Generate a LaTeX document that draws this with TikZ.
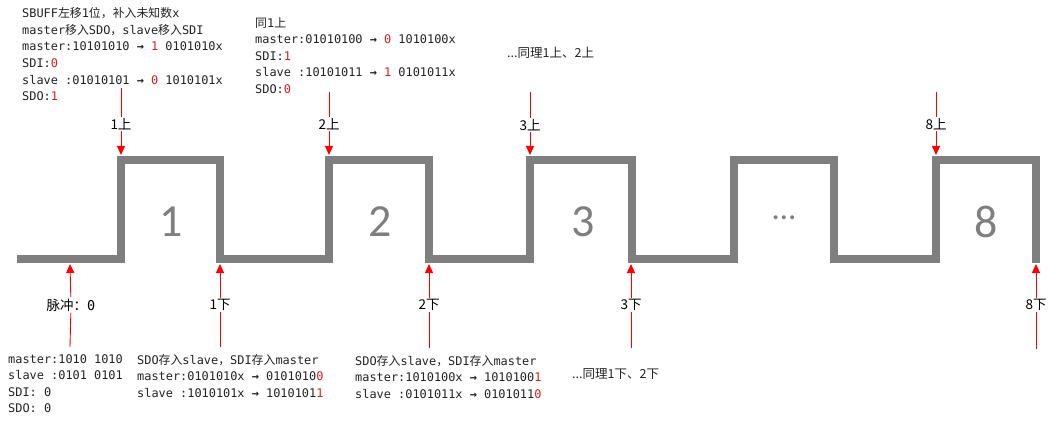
\documentclass[tikz,border=0pt]{standalone}
\usepackage{fontspec}
\setmainfont{Noto Sans CJK SC}
\newfontfamily\cjk{Noto Sans CJK SC}
\newfontfamily\codefont{DejaVu Sans Mono}
\newfontfamily\numfont{Carlito}
\usetikzlibrary{arrows.meta,positioning}
\definecolor{wavegray}{RGB}{127,127,127}
\definecolor{markred}{RGB}{255,0,0}
\definecolor{bitred}{RGB}{215,30,30}
\definecolor{codeblack}{RGB}{35,35,35}
\newcommand{\zh}[1]{{\cjk #1}}
\newcommand{\rb}[1]{\textcolor{bitred}{#1}}
\newcommand{\shiftto}{{\bfseries →}}
\tikzset{
  wave/.style={draw=wavegray,line width=8pt,line join=miter},
  markline/.style={draw=markred,line width=0.9pt},
  markarr/.style={markline,-{Triangle[length=9pt,width=8pt]}},
  edgelab/.style={font=\fontsize{13.5}{16}\selectfont,inner sep=1.5pt,text=black},
  notetext/.style={font=\fontsize{12.5}{15}\selectfont,inner sep=0pt,anchor=west,text=codeblack},
  codetext/.style={font=\codefont\fontsize{11.9}{16.6}\selectfont,align=left,inner sep=0pt,
                   anchor=north west,text=codeblack},
  pulsenum/.style={font=\numfont\fontsize{46}{50}\selectfont,text=wavegray}
}

\begin{document}
\begin{tikzpicture}[x=1pt,y=-1pt]
  \useasboundingbox (0,0) rectangle (1056,422);

  %% Clock waveform
  \draw[wave] (17,259) -- (121,259) -- (121,160) -- (220,160) -- (220,259)
    -- (329,259) -- (329,160) -- (429,160) -- (429,259)
    -- (530,259) -- (530,160) -- (632,160) -- (632,259)
    -- (734,259) -- (734,160) -- (834,160) -- (834,259)
    -- (936,259) -- (936,160) -- (1036,160) -- (1036,263);

  %% Pulse numbers
  \node[pulsenum] (p1) at (171,222) {1};
  \node[pulsenum] (p2) at (380,222) {2};
  \node[pulsenum] (p3) at (583,222) {3};
  \node[pulsenum,font=\numfont\fontsize{33}{36}\selectfont] (pdots) at (784,218) {…};
  \node[pulsenum] (p8) at (986,222) {8};

  %% Edge points on the waveform
  \coordinate (e1u) at (121,155);
  \coordinate (e2u) at (329,155);
  \coordinate (e3u) at (530,155);
  \coordinate (e8u) at (936,155);
  \coordinate (e0d) at (70,264);
  \coordinate (e1d) at (220,264);
  \coordinate (e2d) at (429,264);
  \coordinate (e3d) at (631,264);
  \coordinate (e8d) at (1036,264);

  %% Free ends of the marks
  \coordinate (s1u) at (121,88);
  \coordinate (s2u) at (329,92);
  \coordinate (s3u) at (530,92);
  \coordinate (s8u) at (936,92);
  \coordinate (s0d) at (70,347);
  \coordinate (s1d) at (220,347);
  \coordinate (s2d) at (429,348);
  \coordinate (s3d) at (631,348);
  \coordinate (s8d) at (1036,349);

  %% Edge labels
  \node[edgelab] (m1u) at (121,124) {1上};
  \node[edgelab] (m2u) at (329,124) {2上};
  \node[edgelab] (m3u) at (530,125) {3上};
  \node[edgelab] (m8u) at (936,124) {8上};
  \node[edgelab] (m0d) at (71,305) {脉冲：{\codefont 0}};
  \node[edgelab] (m1d) at (220,305) {1下};
  \node[edgelab] (m2d) at (429,305) {2下};
  \node[edgelab] (m3d) at (631,305) {3下};
  \node[edgelab] (m8d) at (1036,305) {8下};

  %% ── MARKS ──────────────────────────────────────────────
  %% rising edges, from above
  \draw[markline] (s1u) -- (m1u);
  \draw[markarr] (m1u) -- (e1u);
  \draw[markline] (s2u) -- (m2u);
  \draw[markarr] (m2u) -- (e2u);
  \draw[markline] (s3u) -- (m3u);
  \draw[markarr] (m3u) -- (e3u);
  \draw[markline] (s8u) -- (m8u);
  \draw[markarr] (m8u) -- (e8u);

  %% falling edges, from below
  \draw[markline] (s0d) -- (m0d);
  \draw[markarr] (m0d) -- (e0d);
  \draw[markline] (s1d) -- (m1d);
  \draw[markarr] (m1d) -- (e1d);
  \draw[markline] (s2d) -- (m2d);
  \draw[markarr] (m2d) -- (e2d);
  \draw[markline] (s3d) -- (m3d);
  \draw[markarr] (m3d) -- (e3d);
  \draw[markline] (s8d) -- (m8d);
  \draw[markarr] (m8d) -- (e8d);

  %% Shift notes, above
  \node[codetext] (shift1) at (22,7.5)
    {SBUFF\zh{左移}1\zh{位，补入未知数}x\\
     master\zh{移入}SDO\zh{，}slave\zh{移入}SDI\\
     master:10101010 \shiftto{} \rb{1} 0101010x\\
     SDI:\rb{0}\\
     slave :01010101 \shiftto{} \rb{0} 1010101x\\
     SDO:\rb{1}};
  \node[codetext] (shift2) at (255,17)
    {\zh{同}1\zh{上}\\
     master:01010100 \shiftto{} \rb{0} 1010100x\\
     SDI:\rb{1}\\
     slave :10101011 \shiftto{} \rb{1} 0101011x\\
     SDO:\rb{0}};
  \node[notetext] (shiftn) at (507,53) {...同理1上、2上};

  %% Sample notes, below
  \node[codetext] (init) at (8,354)
    {master:1010 1010\\
     slave :0101 0101\\
     SDI: 0\\
     SDO: 0};
  \node[codetext] (store1) at (137,354)
    {SDO\zh{存入}slave\zh{，}SDI\zh{存入}master\\
     master:0101010x \shiftto{} 0101010\rb{0}\\
     slave :1010101x \shiftto{} 1010101\rb{1}};
  \node[codetext] (store2) at (355,355)
    {SDO\zh{存入}slave\zh{，}SDI\zh{存入}master\\
     master:1010100x \shiftto{} 1010100\rb{1}\\
     slave :0101011x \shiftto{} 0101011\rb{0}};
  \node[notetext] (storen) at (572,374) {...同理1下、2下};

\end{tikzpicture}
\end{document}
